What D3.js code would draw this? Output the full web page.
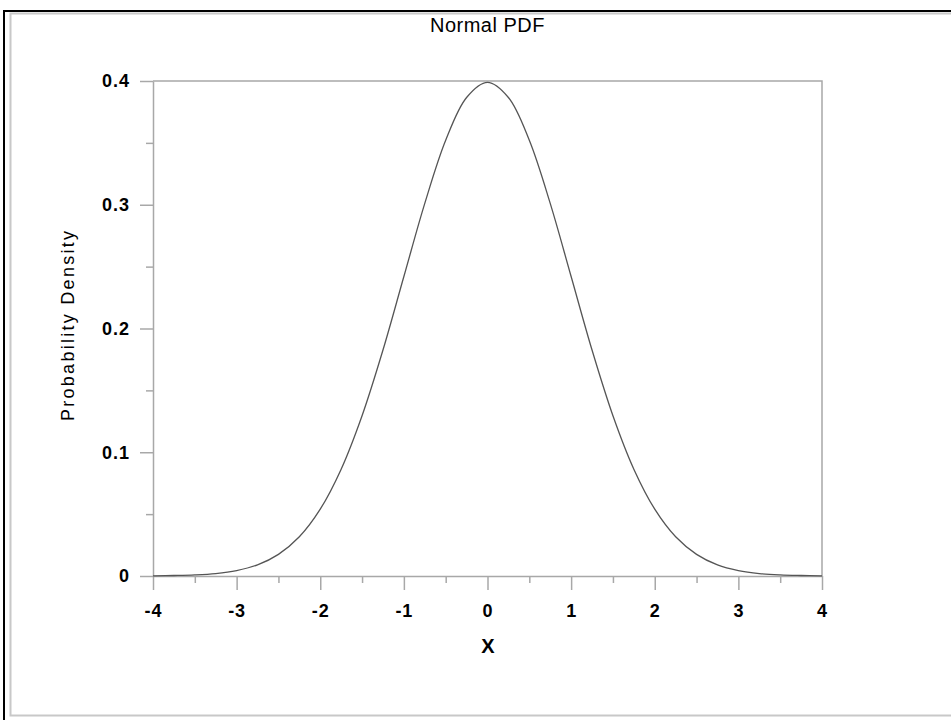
<!DOCTYPE html>
<html>
<head>
<meta charset="utf-8">
<title>Normal PDF</title>
<script src="https://cdn.jsdelivr.net/npm/d3@7"></script>
<style>
    body { margin: 0; background: #ffffff; }
    svg { display: block; }
</style>
</head>
<body>
<svg id="chart"></svg>
<script>
// Values, every 0.25 on the x axis.
let xValues = [-4, -3.75, -3.5, -3.25, -3, -2.75, -2.5, -2.25, -2, -1.75, -1.5, -1.25, -1, -0.75, -0.5, -0.25,
    0, 0.25, 0.5, 0.75, 1, 1.25, 1.5, 1.75, 2, 2.25, 2.5, 2.75, 3, 3.25, 3.5, 3.75, 4];
let densityValues = [0.0001, 0.0004, 0.0009, 0.002, 0.0044, 0.009, 0.0175, 0.0317, 0.054, 0.0863, 0.1295, 0.1826,
    0.242, 0.3011, 0.3521, 0.3867, 0.3989, 0.3867, 0.3521, 0.3011, 0.242, 0.1826, 0.1295, 0.0863, 0.054, 0.0317,
    0.0175, 0.009, 0.0044, 0.002, 0.0009, 0.0004, 0.0001];

let xTicks = [-4, -3, -2, -1, 0, 1, 2, 3, 4];
let xTickLabels = ["-4", "-3", "-2", "-1", "0", "1", "2", "3", "4"];
let xMinorTicks = [-3.5, -2.5, -1.5, -0.5, 0.5, 1.5, 2.5, 3.5];
let yTicks = [0, 0.1, 0.2, 0.3, 0.4];
let yTickLabels = ["0", "0.1", "0.2", "0.3", "0.4"];
let yMinorTicks = [0.05, 0.15, 0.25, 0.35];

function drawChart(){
    let width = 951;
    let height = 720;

    // Plot box
    let left = 153;
    let right = 822;
    let top = 81;
    let bottom = 576;

    let axisColor = "#a8a8a8";
    let font = "'Liberation Sans', Arial, Helvetica, sans-serif";

    let svg = d3.select("#chart").attr("width", width).attr("height", height);

    // Outer frame: dark line top and left, light grey one inside
    svg.append("rect")
        .attr("x", 10.5).attr("y", 13.5)
        .attr("width", width).attr("height", 702)
        .attr("fill", "none")
        .attr("stroke", "#c8c8c8")
        .attr("stroke-width", 2);
    svg.append("line")
        .attr("x1", 3).attr("x2", width).attr("y1", 11).attr("y2", 11)
        .attr("stroke", "#000000").attr("stroke-width", 2);
    svg.append("line")
        .attr("x1", 4).attr("x2", 4).attr("y1", 10).attr("y2", height)
        .attr("stroke", "#000000").attr("stroke-width", 2);

    let x = d3.scaleLinear().domain([-4, 4]).range([left, right]);
    let y = d3.scaleLinear().domain([0, 0.4]).range([bottom, top]);

    // Top and right sides of the box
    svg.append("path")
        .attr("d", "M" + left + "," + top + "H" + right + "V" + bottom)
        .attr("fill", "none")
        .attr("stroke", axisColor)
        .attr("stroke-width", 1.5);

    // X axis
    let xAxis = svg.append("g")
        .attr("transform", "translate(0," + bottom + ")")
        .call(d3.axisBottom(x).tickValues(xTicks).tickSize(14).tickPadding(14).tickSizeOuter(0)
            .tickFormat(function(value, index){ return xTickLabels[index]; }));
    svg.append("g")
        .attr("transform", "translate(0," + bottom + ")")
        .call(d3.axisBottom(x).tickValues(xMinorTicks).tickSize(7).tickFormat("").tickSizeOuter(0))
        .select(".domain").remove();

    // Y axis
    let yAxis = svg.append("g")
        .attr("transform", "translate(" + left + ",0)")
        .call(d3.axisLeft(y).tickValues(yTicks).tickSize(13).tickPadding(10).tickSizeOuter(0)
            .tickFormat(function(value, index){ return yTickLabels[index]; }));
    svg.append("g")
        .attr("transform", "translate(" + left + ",0)")
        .call(d3.axisLeft(y).tickValues(yMinorTicks).tickSize(7).tickFormat("").tickSizeOuter(0))
        .select(".domain").remove();

    svg.selectAll(".domain, .tick line")
        .attr("stroke", axisColor)
        .attr("stroke-width", 1.5);

    [xAxis, yAxis].forEach(function(axis){
        axis.selectAll(".tick text")
            .attr("fill", "#000000")
            .style("font-family", font)
            .style("font-size", "18px")
            .style("font-weight", "bold")
            .style("letter-spacing", "1px");
    });

    // The curve
    let line = d3.line()
        .x(function(value, index){ return x(xValues[index]); })
        .y(function(value){ return y(value); })
        .curve(d3.curveCatmullRom);

    svg.append("path")
        .datum(densityValues)
        .attr("d", line)
        .attr("fill", "none")
        .attr("stroke", "#555555")
        .attr("stroke-width", 1.3);

    // Texts
    svg.append("text")
        .attr("x", (left + right) / 2)
        .attr("y", 32)
        .attr("text-anchor", "middle")
        .style("font-family", font)
        .style("font-size", "20px")
        .style("letter-spacing", "0.5px")
        .text("Normal PDF");

    svg.append("text")
        .attr("x", 488)
        .attr("y", 653)
        .attr("text-anchor", "middle")
        .style("font-family", font)
        .style("font-size", "20px")
        .style("font-weight", "bold")
        .text("X");

    svg.append("text")
        .attr("transform", "translate(74,326) rotate(-90)")
        .attr("text-anchor", "middle")
        .attr("textLength", 190)
        .attr("lengthAdjust", "spacing")
        .style("font-family", font)
        .style("font-size", "18px")
        .text("Probability Density");
}

drawChart();
</script>
</body>
</html>
